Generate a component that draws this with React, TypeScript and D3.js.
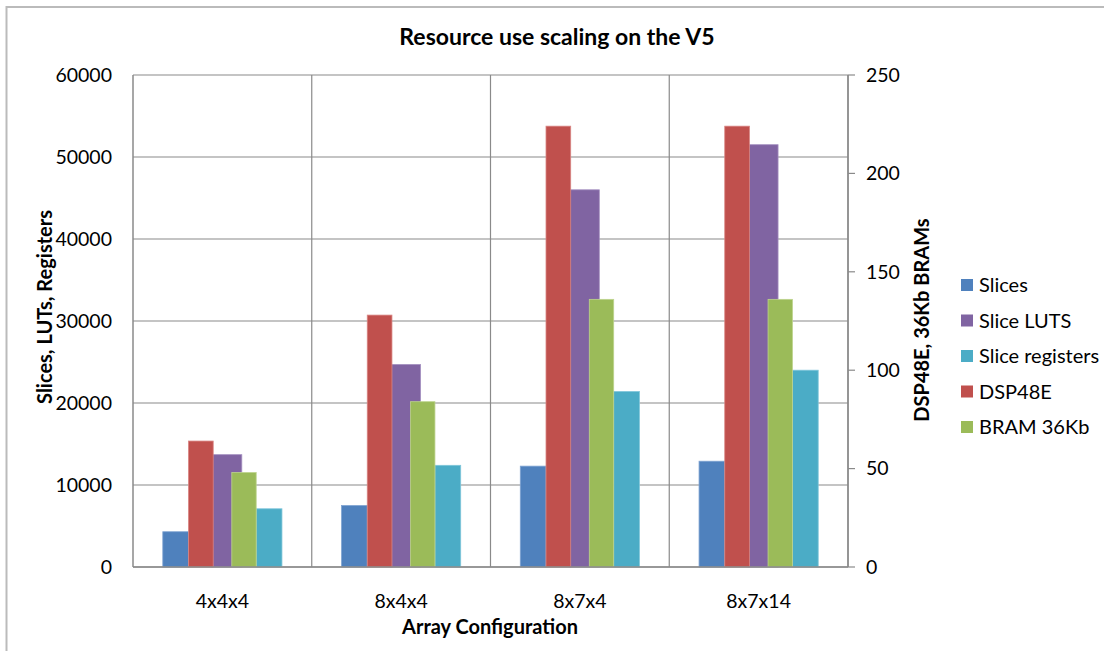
import React from "react";
import * as d3 from "d3";

const categories = ["4x4x4", "8x4x4", "8x7x4", "8x7x14"];
const slices = [4300, 7500, 12300, 12900];
const sliceLuts = [13700, 24700, 46000, 51500];
const sliceRegisters = [7100, 12400, 21400, 24000];
const dsp48e = [64, 128, 224, 224];
const bram36 = [48, 84, 136, 136];
const leftTicks = [0, 10000, 20000, 30000, 40000, 50000, 60000];
const rightTicks = [0, 50, 100, 150, 200, 250];

const W = 1104;
const H = 651;
const M = { left: 133, right: 848, top: 75, bottom: 567 };
const FONT = "Lato, 'Open Sans', sans-serif";
const GRID = "#8a8a8a";

type Series = {
  name: string;
  values: number[];
  color: string;
  stroke: string;
  axis: "left" | "right";
  span: [number, number];
};

const series: Series[] = [
  { name: "Slices", values: slices, color: "#4F81BD", stroke: "#7FA3D2", axis: "left", span: [0.1667, 0.3105] },
  { name: "Slice LUTS", values: sliceLuts, color: "#8064A2", stroke: "#A48FC0", axis: "left", span: [0.44, 0.6087] },
  { name: "Slice registers", values: sliceRegisters, color: "#4BACC6", stroke: "#7FC6DA", axis: "left", span: [0.6892, 0.8333] },
  { name: "DSP48E", values: dsp48e, color: "#C0504D", stroke: "#D98583", axis: "right", span: [0.3105, 0.4487] },
  { name: "BRAM 36Kb", values: bram36, color: "#9BBB59", stroke: "#BDD48D", axis: "right", span: [0.5527, 0.6892] },
];

export default function App() {
  const x = d3.scaleBand<string>().domain(categories).range([M.left, M.right]).padding(0);
  const yL = d3.scaleLinear().domain([0, 60000]).range([M.bottom, M.top]);
  const yR = d3.scaleLinear().domain([0, 250]).range([M.bottom, M.top]);
  const inner = d3.scaleLinear().domain([0, 1]).range([0, x.bandwidth()]);

  const legendY = d3.scalePoint<string>().domain(series.map((s) => s.name)).range([285, 427]);

  return (
    <svg
      width={W}
      height={H}
      viewBox={`0 0 ${W} ${H}`}
      style={{ position: "absolute", left: 0, top: 0, display: "block", background: "#fff" }}
    >
      <rect x={0} y={0} width={W} height={H} fill="#fff" />
      <rect x={6.5} y={7} width={W + 20} height={H + 20} fill="none" stroke="#BBBBBB" strokeWidth={2} />

      <text x={557} y={45} textAnchor="middle" fontFamily={FONT} fontWeight="bold" fontSize={23} fill="#000">
        Resource use scaling on the V5
      </text>

      {/* horizontal gridlines */}
      {leftTicks.map((t) => (
        <line key={"h" + t} x1={M.left} x2={M.right} y1={yL(t)} y2={yL(t)} stroke={GRID} strokeWidth={1.2} />
      ))}
      {/* vertical gridlines at category boundaries */}
      {categories.map((c) => (
        <line key={"v" + c} x1={(x(c) as number) + x.bandwidth()} x2={(x(c) as number) + x.bandwidth()} y1={M.top} y2={M.bottom} stroke={GRID} strokeWidth={1.2} />
      ))}
      <line x1={M.left} x2={M.left} y1={M.top} y2={M.bottom} stroke={GRID} strokeWidth={1.5} />
      <line x1={M.right} x2={M.right} y1={M.top} y2={M.bottom} stroke={GRID} strokeWidth={1.5} />
      {rightTicks.map((t) => (
        <line key={"rt" + t} x1={M.right} x2={M.right + 7} y1={yR(t)} y2={yR(t)} stroke={GRID} strokeWidth={1.2} />
      ))}

      {/* bars: primary first, secondary on top */}
      {series.map((s) =>
        s.values.map((v, i) => {
          const c = categories[i];
          const x0 = (x(c) as number) + inner(s.span[0]);
          const x1 = (x(c) as number) + inner(s.span[1]);
          const y = s.axis === "left" ? yL(v) : yR(v);
          return (
            <rect
              key={s.name + i}
              x={x0}
              y={y}
              width={x1 - x0}
              height={M.bottom - y}
              fill={s.color}
              stroke={s.stroke}
              strokeWidth={0.8}
            />
          );
        })
      )}
      <line x1={M.left} x2={M.right} y1={M.bottom} y2={M.bottom} stroke={GRID} strokeWidth={1.5} />

      {/* left tick labels */}
      {leftTicks.map((t) => (
        <text key={"lt" + t} x={112} y={yL(t)} dy="0.35em" textAnchor="end" fontFamily={FONT} fontSize={19.5} fill="#000">
          {t}
        </text>
      ))}
      {/* right tick labels */}
      {rightTicks.map((t) => (
        <text key={"rl" + t} x={866} y={yR(t)} dy="0.35em" textAnchor="start" fontFamily={FONT} fontSize={19.5} fill="#000">
          {t}
        </text>
      ))}
      {/* category labels */}
      {categories.map((c) => (
        <text key={"c" + c} x={(x(c) as number) + x.bandwidth() / 2} y={601} dy="0.35em" textAnchor="middle" fontFamily={FONT} fontSize={19.5} fill="#000">
          {c}
        </text>
      ))}

      <text x={490} y={627} dy="0.35em" textAnchor="middle" fontFamily={FONT} fontWeight="bold" fontSize={20} fill="#000">
        Array Configuration
      </text>
      <text transform={`translate(45,307) rotate(-90)`} dy="0.35em" textAnchor="middle" fontFamily={FONT} fontWeight="bold" fontSize={20} fill="#000">
        Slices, LUTs, Registers
      </text>
      <text transform={`translate(922,320) rotate(-90)`} dy="0.35em" textAnchor="middle" fontFamily={FONT} fontWeight="bold" fontSize={20} fill="#000">
        DSP48E, 36Kb BRAMs
      </text>

      {/* legend */}
      {series.map((s) => (
        <g key={"lg" + s.name} transform={`translate(961,${legendY(s.name)})`}>
          <rect x={0} y={-6} width={12} height={12} fill={s.color} />
          <text x={18} y={0} dy="0.35em" fontFamily={FONT} fontSize={20} fill="#000">
            {s.name}
          </text>
        </g>
      ))}
    </svg>
  );
}
